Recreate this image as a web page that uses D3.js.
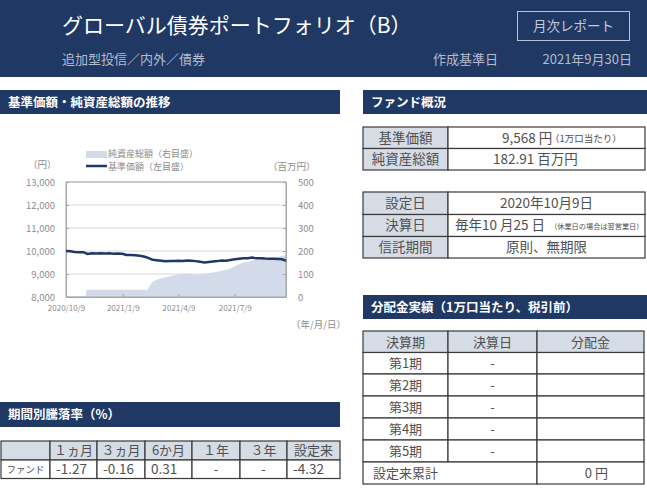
<!DOCTYPE html>
<html><head><meta charset="utf-8">
<script src="https://cdnjs.cloudflare.com/ajax/libs/d3/7.8.5/d3.min.js"></script>
<style>
html,body{margin:0;padding:0;background:#fff;}
svg{display:block;font-family:"Noto Sans CJK JP","Noto Sans",sans-serif;}
</style></head>
<body>
<svg id="c" width="647" height="498"></svg>
<script>
// ---------- DATA ----------
const navDates = ["2020-10-09","2020-10-16","2020-10-23","2020-10-30","2020-11-06","2020-11-13","2020-11-20","2020-11-27","2020-12-04","2020-12-11","2020-12-18","2020-12-25","2020-12-31","2021-01-08","2021-01-15","2021-01-22","2021-01-29","2021-02-05","2021-02-12","2021-02-19","2021-02-26","2021-03-05","2021-03-12","2021-03-19","2021-03-26","2021-04-02","2021-04-09","2021-04-16","2021-04-23","2021-04-30","2021-05-07","2021-05-14","2021-05-21","2021-05-28","2021-06-04","2021-06-11","2021-06-18","2021-06-25","2021-07-02","2021-07-09","2021-07-16","2021-07-23","2021-07-30","2021-08-06","2021-08-13","2021-08-20","2021-08-27","2021-09-03","2021-09-10","2021-09-17","2021-09-24","2021-09-30"];
const navValues = [10000,9985,9960,9945,9950,9870,9900,9895,9905,9890,9900,9885,9890,9880,9825,9830,9815,9790,9760,9700,9620,9600,9580,9550,9565,9560,9575,9570,9585,9575,9560,9530,9500,9525,9545,9560,9590,9575,9610,9640,9665,9680,9690,9715,9680,9690,9675,9665,9660,9650,9640,9568];
const assetDates = ["2020-10-09","2020-11-10","2020-11-11","2021-02-18","2021-02-22","2021-02-26","2021-03-05","2021-03-12","2021-03-19","2021-03-26","2021-04-02","2021-04-09","2021-04-16","2021-04-23","2021-04-30","2021-05-07","2021-05-14","2021-05-21","2021-05-28","2021-06-04","2021-06-11","2021-06-18","2021-06-25","2021-07-02","2021-07-09","2021-07-16","2021-07-23","2021-07-30","2021-08-06","2021-08-13","2021-08-20","2021-08-27","2021-09-03","2021-09-10","2021-09-17","2021-09-24","2021-09-30"];
const assetValues = [3,3,31,31,50,65,75,82,86,90,95,99,100,101,100,97,98,101,104,107,110,114,118,124,134,142,150,153,158,162,164,167,170,172,175,178,183];
const leftTicks = [8000,9000,10000,11000,12000,13000];
const rightTicks = [0,100,200,300,400,500];
const xTickDates = ["2020-10-09","2021-01-09","2021-04-09","2021-07-09"];
const xTickLabels = ["2020/10/9","2021/1/9","2021/4/9","2021/7/9"];

const perfHeaders = ["","１ヵ月","３ヵ月","6か月","１年","３年","設定来"];
const perfRowLabel = "ファンド";
const perfValues = ["-1.27","-0.16","0.31","-","-","-4.32"];

const overview1Labels = ["基準価額","純資産総額"];
const overview1Values = ["9,568 円","182.91 百万円"];
const overview1Notes = ["（1万口当たり）",""];
const overview2Labels = ["設定日","決算日","信託期間"];
const overview2Values = ["2020年10月9日","毎年10 月25 日","原則、無期限"];
const overview2Notes = ["","（休業日の場合は翌営業日）",""];

const distHeaders = ["決算期","決算日","分配金"];
const distPeriods = ["第1期","第2期","第3期","第4期","第5期"];
const distDates = ["-","-","-","-","-"];
const distAmounts = ["","","","",""];
const distTotalLabel = "設定来累計";
const distTotal = "0 円";

// ---------- STYLE ----------
const NAVY = "#1f3864";
const LABELBG = "#d6dce5";
const BORDER = "#3a3a3a";
const TXT = "#505050";
const svg = d3.select("#c");
const parse = d3.timeParse("%Y-%m-%d");

// ---------- PAGE HEADER ----------
svg.append("rect").attr("x",0).attr("y",0).attr("width",647).attr("height",77).attr("fill",NAVY);
svg.append("text").attr("x",62).attr("y",33).attr("fill","#fff").attr("font-size",21).text("グローバル債券ポートフォリオ（B）");
svg.append("rect").attr("x",517.5).attr("y",11.5).attr("width",112).attr("height",29).attr("fill","none").attr("stroke","#b8c2d4").attr("stroke-width",1);
svg.append("text").attr("x",573.5).attr("y",31).attr("text-anchor","middle").attr("fill","#c4ccdc").attr("font-size",13.5).text("月次レポート");
svg.append("text").attr("x",62).attr("y",64).attr("fill","#b4bccc").attr("font-size",13).text("追加型投信／内外／債券");
svg.append("text").attr("x",433).attr("y",64).attr("fill","#b4bccc").attr("font-size",13).text("作成基準日");
svg.append("text").attr("x",632).attr("y",64).attr("text-anchor","end").attr("fill","#b4bccc").attr("font-size",13).text("2021年9月30日");

// ---------- SECTION BANDS ----------
function band(x,y,w,h,label){
  svg.append("rect").attr("x",x).attr("y",y).attr("width",w).attr("height",h).attr("fill",NAVY);
  svg.append("text").attr("x",x+8).attr("y",y+h/2+4.5).attr("fill","#fff").attr("font-size",12.5).attr("font-weight","bold").text(label);
}
band(0,90,340,24,"基準価額・純資産総額の推移");
band(363,90,284,24,"ファンド概況");
band(363,295,284,24,"分配金実績（1万口当たり、税引前）");
band(0,402,340,25,"期間別騰落率（%）");

// ---------- CHART ----------
const X0=66, X1=286, YT=182, YB=297;
const x = d3.scaleTime().domain([parse("2020-10-09"),parse("2021-09-30")]).range([X0,X1]);
const yL = d3.scaleLinear().domain([8000,13000]).range([YB,YT]);
const yR = d3.scaleLinear().domain([0,500]).range([YB,YT]);
const navData = navDates.map((d,i)=>({d:parse(d),v:navValues[i]}));
const assetData = assetDates.map((d,i)=>({d:parse(d),v:assetValues[i]}));
const g = svg.append("g");
g.selectAll("line.grid").data(leftTicks).join("line").attr("class","grid")
  .attr("x1",X0).attr("x2",X1).attr("y1",d=>yL(d)).attr("y2",d=>yL(d))
  .attr("stroke","#d9d9d9").attr("stroke-width",1);
g.append("path").datum(assetData).attr("fill","#d3dbea")
  .attr("d",d3.area().x(d=>x(d.d)).y0(yR(0)).y1(d=>yR(d.v)));
g.append("rect").attr("x",X0).attr("y",YT).attr("width",X1-X0).attr("height",YB-YT).attr("fill","none").attr("stroke","#a6a6a6").attr("stroke-width",1);
const axL = d3.axisLeft(yL).tickValues(leftTicks).tickFormat(d3.format(",")).tickSizeInner(-3).tickSizeOuter(0).tickPadding(11);
const gl = g.append("g").attr("transform",`translate(${X0},0)`).call(axL);
const axR = d3.axisRight(yR).tickValues(rightTicks).tickSizeInner(-3).tickSizeOuter(0).tickPadding(12);
const gr = g.append("g").attr("transform",`translate(${X1},0)`).call(axR);
const axB = d3.axisBottom(x).tickValues(xTickDates.map(parse)).tickFormat((d,i)=>xTickLabels[i]).tickSizeInner(-3).tickSizeOuter(0).tickPadding(8);
const gb = g.append("g").attr("transform",`translate(0,${YB})`).call(axB);
[gl,gr,gb].forEach(a=>{
  a.select(".domain").attr("stroke","#a6a6a6");
  a.selectAll(".tick line").attr("stroke","#a6a6a6");
  a.selectAll("text").attr("fill","#8c8c8c").attr("font-family","'Noto Sans CJK JP',sans-serif");
});
gl.selectAll("text").attr("font-size",9.5);
gr.selectAll("text").attr("font-size",9.5).attr("dy","0.32em");
gb.selectAll("text").attr("font-size",8);
g.append("path").datum(navData).attr("fill","none").attr("stroke",NAVY).attr("stroke-width",2.5)
  .attr("d",d3.line().x(d=>x(d.d)).y(d=>yL(d.v)));
svg.append("text").attr("x",28).attr("y",168).attr("fill","#8c8c8c").attr("font-size",9.5).text("（円）");
svg.append("text").attr("x",268).attr("y",170).attr("fill","#8c8c8c").attr("font-size",9.5).text("（百万円）");
svg.append("text").attr("x",291).attr("y",328).attr("fill","#8c8c8c").attr("font-size",9.5).text("（年/月/日）");
// legend
svg.append("rect").attr("x",86).attr("y",151).attr("width",21).attr("height",7).attr("fill","#d3dbea");
svg.append("text").attr("x",108).attr("y",157).attr("fill","#8c8c8c").attr("font-size",9).text("純資産総額（右目盛）");
svg.append("line").attr("x1",86).attr("x2",107).attr("y1",166).attr("y2",166).attr("stroke",NAVY).attr("stroke-width",2.5);
svg.append("text").attr("x",108).attr("y",170).attr("fill","#8c8c8c").attr("font-size",9).text("基準価額（左目盛）");

// ---------- TABLE HELPERS ----------
function cell(x0,x1,y0,y1,fill){
  svg.append("rect").attr("x",x0).attr("y",y0).attr("width",x1-x0).attr("height",y1-y0)
    .attr("fill",fill||"#fff").attr("stroke",BORDER).attr("stroke-width",1.2);
}
function txt(xp,yp,s,size,anchor,col){
  return svg.append("text").attr("x",xp).attr("y",yp).attr("font-size",size).attr("text-anchor",anchor||"middle").attr("fill",col||TXT).text(s);
}

// ---------- OVERVIEW TABLES ----------
const ovC=[363,448,645];
const ov1R=[127,148.5,170];
overview1Labels.forEach((l,i)=>{
  cell(ovC[0],ovC[1],ov1R[i],ov1R[i+1],LABELBG);
  cell(ovC[1],ovC[2],ov1R[i],ov1R[i+1]);
  txt((ovC[0]+ovC[1])/2,(ov1R[i]+ov1R[i+1])/2+4.8,l,13.5);
});
txt(502,(ov1R[0]+ov1R[1])/2+4.8,overview1Values[0],13.5,"start");
txt(550,(ov1R[0]+ov1R[1])/2+3.8,overview1Notes[0],9.5,"start");
txt(493,(ov1R[1]+ov1R[2])/2+4.8,overview1Values[1],13.5,"start");

const ov2R=[192,214.5,236.5,258];
overview2Labels.forEach((l,i)=>{
  cell(ovC[0],ovC[1],ov2R[i],ov2R[i+1],LABELBG);
  cell(ovC[1],ovC[2],ov2R[i],ov2R[i+1]);
  txt((ovC[0]+ovC[1])/2,(ov2R[i]+ov2R[i+1])/2+4.8,l,13.5);
});
txt((ovC[1]+ovC[2])/2,(ov2R[0]+ov2R[1])/2+4.8,overview2Values[0],13.5);
txt(455,(ov2R[1]+ov2R[2])/2+4.8,overview2Values[1],13.5,"start");
txt(550,(ov2R[1]+ov2R[2])/2+3.5,overview2Notes[1],7.2,"start");
txt((ovC[1]+ovC[2])/2,(ov2R[2]+ov2R[3])/2+4.8,overview2Values[2],13.5);

// ---------- DISTRIBUTION TABLE ----------
const dC=[363,448,537,644];
const dR=[331,352.5,374,396,418,440,462,484];
distHeaders.forEach((h,j)=>{
  cell(dC[j],dC[j+1],dR[0],dR[1],LABELBG);
  txt((dC[j]+dC[j+1])/2,(dR[0]+dR[1])/2+4.8,h,13);
});
distPeriods.forEach((p,i)=>{
  const vals=[p,distDates[i],distAmounts[i]];
  vals.forEach((v,j)=>{
    cell(dC[j],dC[j+1],dR[i+1],dR[i+2]);
    txt((dC[j]+dC[j+1])/2,(dR[i+1]+dR[i+2])/2+4.8,v,13);
  });
});
cell(dC[0],dC[2],dR[6],dR[7]);
cell(dC[2],dC[3],dR[6],dR[7]);
txt(373,(dR[6]+dR[7])/2+4.8,distTotalLabel,13,"start");
txt(608,(dR[6]+dR[7])/2+4.8,distTotal,13,"end");

// ---------- PERFORMANCE TABLE ----------
const pC=[1,50,97,145,192,240,287,340];
const pR=[441,460,478.5];
perfHeaders.forEach((h,j)=>{
  cell(pC[j],pC[j+1],pR[0],pR[1],LABELBG);
  txt((pC[j]+pC[j+1])/2,(pR[0]+pR[1])/2+4.6,h,13);
});
cell(pC[0],pC[1],pR[1],pR[2]);
txt((pC[0]+pC[1])/2,(pR[1]+pR[2])/2+3.5,perfRowLabel,9.5);
perfValues.forEach((v,j)=>{
  cell(pC[j+1],pC[j+2],pR[1],pR[2]);
  if(v==="-") txt((pC[j+1]+pC[j+2])/2,(pR[1]+pR[2])/2+4.6,v,13);
  else txt(pC[j+1]+6,(pR[1]+pR[2])/2+4.6,v,13.5,"start");
});
</script>
</body></html>
